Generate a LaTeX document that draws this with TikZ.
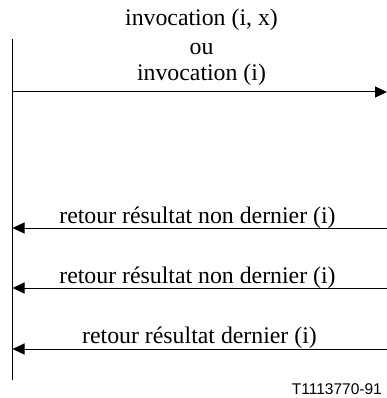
\documentclass[tikz,border=0pt]{standalone}
\usepackage{fontspec}
\setmainfont{Liberation Serif}
\newfontfamily\labelsans{Liberation Sans}
\usetikzlibrary{arrows.meta}
\begin{document}
\begin{tikzpicture}[x=1pt,y=-1pt,
  msg/.style={line width=1pt,-{Triangle[length=12pt,width=11pt]}},
  lifeline/.style={line width=1pt},
  msgtext/.style={font=\fontsize{23.8}{26}\selectfont,anchor=base,inner sep=0pt}]
  \useasboundingbox (0,0) rectangle (387,398);
  % lifeline
  \coordinate (top) at (12.5,39);
  \coordinate (bot) at (12.5,380);
  \draw[lifeline] (top) -- (bot);
  % outgoing invocation
  \coordinate (inv0) at (12.5,92);
  \coordinate (inv1) at (387,92);
  \draw[msg] (inv0) -- (inv1);
  \node[msgtext] (l1) at (201.5,26) {invocation (i, x)};
  \node[msgtext] (l2) at (201.5,55) {ou};
  \node[msgtext] (l3) at (201.5,81) {invocation (i)};
  % returned results
  \coordinate (r1a) at (387,228);
  \coordinate (r1b) at (12.5,228);
  \draw[msg] (r1a) -- (r1b);
  \node[msgtext] (t1) at (197.5,223) {retour résultat non dernier (i)};
  \coordinate (r2a) at (387,288);
  \coordinate (r2b) at (12.5,288);
  \draw[msg] (r2a) -- (r2b);
  \node[msgtext] (t2) at (197.5,283) {retour résultat non dernier (i)};
  \coordinate (r3a) at (387,349);
  \coordinate (r3b) at (12.5,349);
  \draw[msg] (r3a) -- (r3b);
  \node[msgtext] (t3) at (199.5,343) {retour résultat dernier (i)};
  % figure reference
  \node[anchor=base east,inner sep=0pt,font=\labelsans\fontsize{15.5}{18}\selectfont] (ref) at (382,394) {T1113770-91};
\end{tikzpicture}
\end{document}
